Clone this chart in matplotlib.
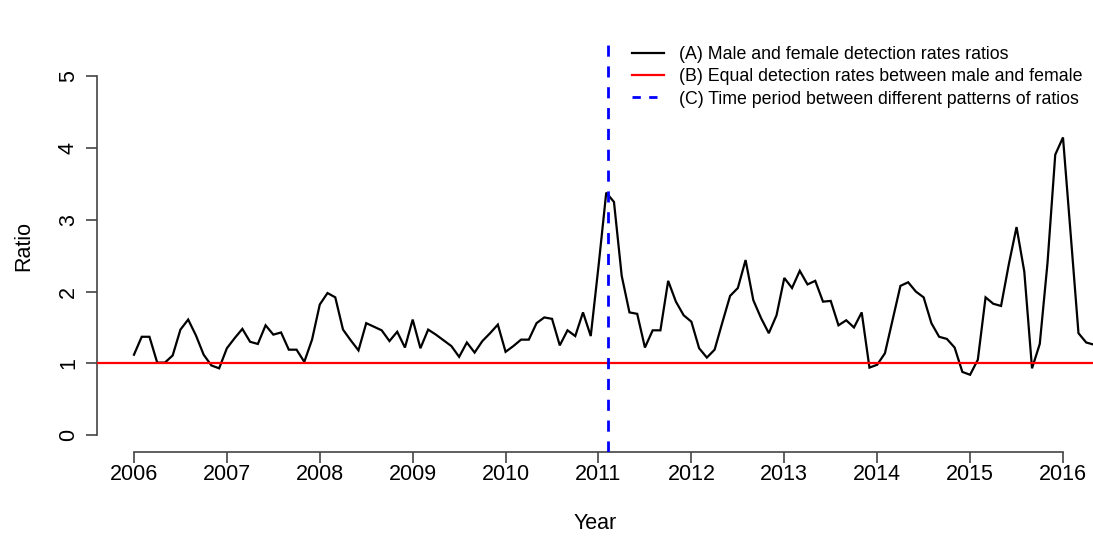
import numpy as np
import matplotlib
matplotlib.use("Agg")
import matplotlib.pyplot as plt
from matplotlib.lines import Line2D

plt.rcParams['font.family'] = ['Liberation Sans', 'DejaVu Sans']

# Monthly male/female detection-rate ratios, starting January 2006
start_year = 2006
ratio_2006 = [1.12, 1.37, 1.37, 1.01, 1.01, 1.11, 1.47, 1.61, 1.39, 1.12, 0.97, 0.93]
ratio_2007 = [1.21, 1.35, 1.48, 1.30, 1.27, 1.53, 1.40, 1.43, 1.19, 1.19, 1.02, 1.33]
ratio_2008 = [1.82, 1.98, 1.92, 1.47, 1.32, 1.18, 1.56, 1.51, 1.46, 1.31, 1.44, 1.22]
ratio_2009 = [1.61, 1.21, 1.47, 1.40, 1.32, 1.24, 1.09, 1.29, 1.15, 1.31, 1.42, 1.54]
ratio_2010 = [1.16, 1.24, 1.33, 1.33, 1.56, 1.64, 1.62, 1.25, 1.46, 1.38, 1.71, 1.38]
ratio_2011 = [2.35, 3.38, 3.25, 2.22, 1.71, 1.69, 1.22, 1.46, 1.46, 2.15, 1.86, 1.67]
ratio_2012 = [1.58, 1.21, 1.08, 1.19, 1.57, 1.94, 2.05, 2.44, 1.88, 1.63, 1.42, 1.67]
ratio_2013 = [2.19, 2.05, 2.29, 2.10, 2.15, 1.86, 1.87, 1.53, 1.60, 1.50, 1.71, 0.94]
ratio_2014 = [0.98, 1.14, 1.61, 2.08, 2.13, 2.00, 1.92, 1.56, 1.37, 1.34, 1.22, 0.88]
ratio_2015 = [0.84, 1.05, 1.92, 1.83, 1.80, 2.38, 2.90, 2.28, 0.93, 1.27, 2.40, 3.91]
ratio_2016 = [4.15, 2.79, 1.42, 1.29, 1.26]

ratios = (ratio_2006 + ratio_2007 + ratio_2008 + ratio_2009 + ratio_2010 +
          ratio_2011 + ratio_2012 + ratio_2013 + ratio_2014 + ratio_2015 + ratio_2016)
time = start_year + np.arange(len(ratios)) / 12.0

equal_ratio = 1.0
split_time = 2011.1

year_ticks = list(range(2006, 2017))
ratio_ticks = [0, 1, 2, 3, 4, 5]

legend_labels = [
    "(A) Male and female detection rates ratios",
    "(B) Equal detection rates between male and female",
    "(C) Time period between different patterns of ratios",
]

W, H = 1093, 536
fig = plt.figure(figsize=(W / 100, H / 100), dpi=100)
ax = fig.add_axes([97 / W, 84 / H, (W - 97) / W, 412 / H])

ax.plot(time, ratios, color="black", lw=1.6, solid_joinstyle="miter", zorder=2)
ax.axhline(equal_ratio, color="#FF0000", lw=1.6, zorder=3)
ax.axvline(split_time, color="#0000FF", lw=2.0, ls=(0, (4.0, 3.5)), zorder=4)

ax.set_xlim(2005.602, 2016.323)
ax.set_ylim(-0.237, 5.509)

for side in ("top", "right"):
    ax.spines[side].set_visible(False)
ax.spines["left"].set_bounds(0, 5)
ax.spines["bottom"].set_bounds(2006, 2016)
for side in ("left", "bottom"):
    ax.spines[side].set_color("#444444")
    ax.spines[side].set_linewidth(1.2)

ax.set_xticks(year_ticks)
ax.set_xticklabels([str(y) for y in year_ticks])
ax.set_yticks(ratio_ticks)
ax.set_yticklabels([str(r) for r in ratio_ticks], rotation=90, va="center")
ax.tick_params(axis="both", length=8, width=1.2, color="#444444",
               labelsize=15.5, labelcolor="black")
ax.tick_params(axis="x", pad=1)
ax.tick_params(axis="y", pad=5)

ax.set_xlabel("Year", fontsize=15.5, labelpad=20)
ax.set_ylabel("Ratio", fontsize=15.5, labelpad=17)

handles = [
    Line2D([], [], color="black", lw=1.6),
    Line2D([], [], color="#FF0000", lw=1.6),
    Line2D([], [], color="#0000FF", lw=2.0, ls=(0, (3.0, 3.0))),
]
ax.legend(handles, legend_labels, loc="upper left",
          bbox_to_anchor=(632 / W, 1 - 46 / H), bbox_transform=fig.transFigure,
          frameon=False, fontsize=12.8, handlelength=1.8, handletextpad=0.85,
          labelspacing=0.3, borderaxespad=0, borderpad=0)

fig.savefig("out.png", dpi=100)
